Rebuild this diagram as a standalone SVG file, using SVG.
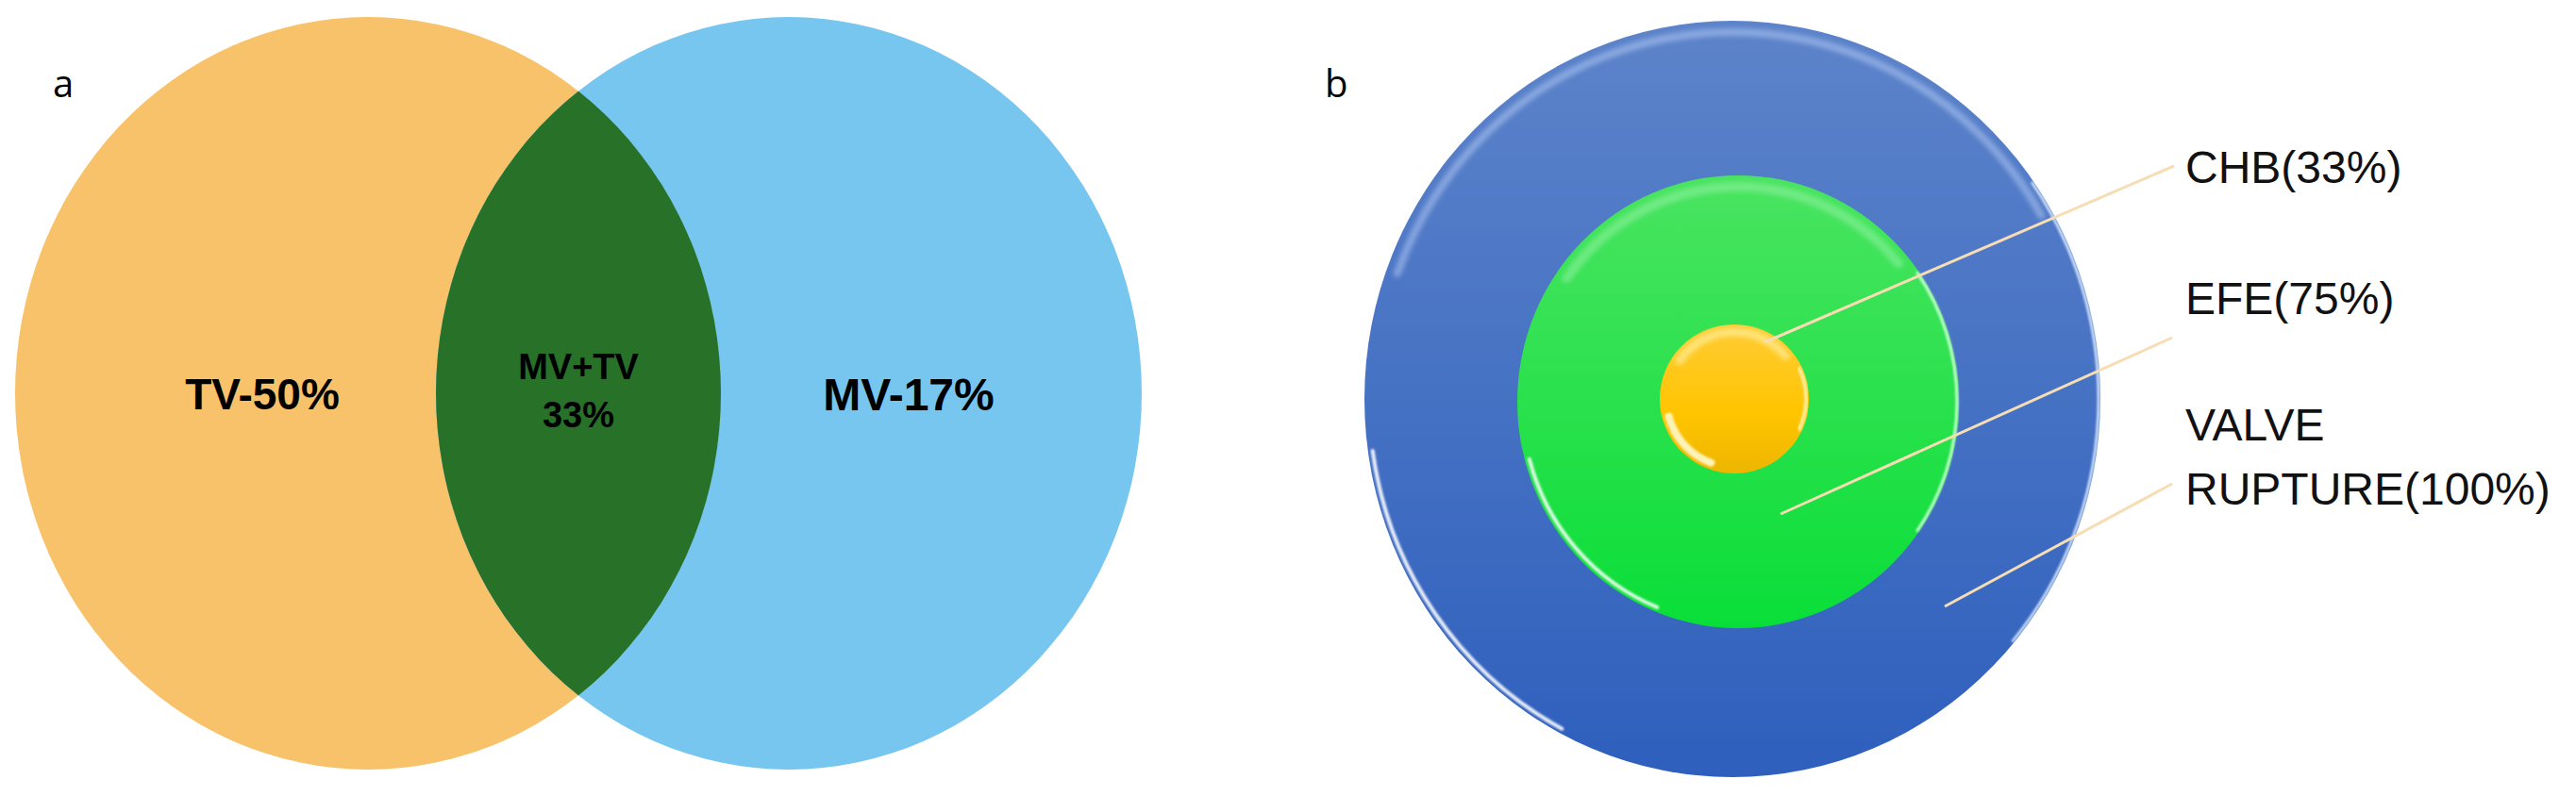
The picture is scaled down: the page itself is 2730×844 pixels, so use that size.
<svg xmlns="http://www.w3.org/2000/svg" width="2730" height="844" viewBox="0 0 2730 844">
<style>
.lbl{font-family:"Liberation Sans",Arial,sans-serif;fill:#111;}
.venn{font-family:"Liberation Sans",Arial,sans-serif;font-weight:bold;fill:#000;text-anchor:middle;}
.tag{font-family:"Open Sans","Liberation Sans",sans-serif;font-size:40px;fill:#000;}
.lead{stroke:#F6DDB4;stroke-width:3;fill:none;}
.hl{fill:none;stroke-linecap:round;}
</style>
<defs>
<clipPath id="clipOrange"><ellipse cx="390" cy="417" rx="374" ry="399"/></clipPath>
<filter id="soft" x="-20%" y="-20%" width="140%" height="140%"><feGaussianBlur stdDeviation="2.5"/></filter>
<filter id="soft1" x="-20%" y="-20%" width="140%" height="140%"><feGaussianBlur stdDeviation="1"/></filter>
<linearGradient id="gBlue" x1="0" y1="0" x2="0" y2="1">
<stop offset="0" stop-color="#5D84CA"/>
<stop offset="1" stop-color="#2E5FBD"/>
</linearGradient>
<linearGradient id="gGreen" x1="0" y1="0" x2="0" y2="1">
<stop offset="0" stop-color="#4AE461"/>
<stop offset="1" stop-color="#09DE38"/>
</linearGradient>
<linearGradient id="gYellow" x1="0" y1="0" x2="0" y2="1">
<stop offset="0" stop-color="#FFCB35"/>
<stop offset="0.6" stop-color="#FFC500"/>
<stop offset="1" stop-color="#EDB500"/>
</linearGradient>
</defs>

<g id="venn">
<g id="node-tv">
<ellipse cx="390" cy="417" rx="374" ry="399" fill="#F8C26B"/>
</g>
<g id="node-mv">
<ellipse cx="836" cy="417" rx="374" ry="399" fill="#77C6EF"/>
</g>
<g id="node-both">
<ellipse cx="836" cy="417" rx="374" ry="399" fill="#287129" clip-path="url(#clipOrange)"/>
</g>
<text class="venn" x="278" y="434" font-size="46">TV-50%</text>
<text class="venn" x="613" y="402" font-size="38">MV+TV</text>
<text class="venn" x="613" y="453" font-size="38">33%</text>
<text class="venn" x="963" y="435" font-size="48">MV-17%</text>
<text class="tag" x="56" y="103">a</text>
</g>

<g id="target">
<g id="node-valve">
<ellipse cx="1836" cy="423" rx="390" ry="401" fill="url(#gBlue)"/>
<path class="hl" d="M1480.8,290 A378,389 0 0 1 2163.4,228.5" stroke="#B8CEF6" stroke-width="8" opacity="0.5" filter="url(#soft)"/>
<path class="hl" d="M1454.7,478.1 A385,396 0 0 0 1655.3,772.7" stroke="#FFFFFF" stroke-width="4" opacity="0.9" filter="url(#soft1)"/>
<path class="hl" d="M2153.8,194 A388,399 0 0 1 2133.2,679.6" stroke="#E0EEFF" stroke-width="3" opacity="0.9" filter="url(#soft1)"/>
</g>
<g id="node-efe">
<ellipse cx="1842" cy="426" rx="234" ry="240" fill="url(#gGreen)"/>
<path class="hl" d="M1660.2,295.2 A222,228 0 0 1 2012.1,279.4" stroke="#9AF2A8" stroke-width="10" opacity="0.5" filter="url(#soft)"/>
<path class="hl" d="M1620.8,486.9 A229,235 0 0 0 1756.2,643.9" stroke="#FFFFFF" stroke-width="4" opacity="0.85" filter="url(#soft1)"/>
<path class="hl" d="M2032,289.4 A232,238 0 0 1 2032,562.6" stroke="#D8FFE0" stroke-width="3" opacity="0.9" filter="url(#soft1)"/>
</g>
<g id="node-chb">
<ellipse cx="1838" cy="423" rx="79" ry="79" fill="url(#gYellow)"/>
<path class="hl" d="M1779.8,382.3 A71,71 0 0 1 1892.4,377.4" stroke="#FFE680" stroke-width="9" opacity="0.9" filter="url(#soft)"/>
<path class="hl" d="M1768.5,441.6 A72,72 0 0 0 1813.4,490.7" stroke="#FFF6C0" stroke-width="8" opacity="0.95" filter="url(#soft1)"/>
<path class="hl" d="M1906.9,390.9 A76,76 0 0 1 1906.9,455.1" stroke="#FFF0A0" stroke-width="4" opacity="0.95" filter="url(#soft1)"/>
</g>
<text class="tag" x="1404" y="103">b</text>
</g>

<g id="connectors">
<line class="lead" x1="1870" y1="363" x2="2304" y2="176"/>
<line class="lead" x1="1887" y1="545" x2="2302" y2="358"/>
<line class="lead" x1="2061" y1="643" x2="2302" y2="513"/>
</g>

<g id="labels">
<text class="lbl" x="2316" y="194" font-size="48">CHB(33%)</text>
<text class="lbl" x="2316" y="333" font-size="48">EFE(75%)</text>
<text class="lbl" x="2316" y="467" font-size="48">VALVE</text>
<text class="lbl" x="2316" y="535" font-size="48">RUPTURE(100%)</text>
</g>
</svg>
